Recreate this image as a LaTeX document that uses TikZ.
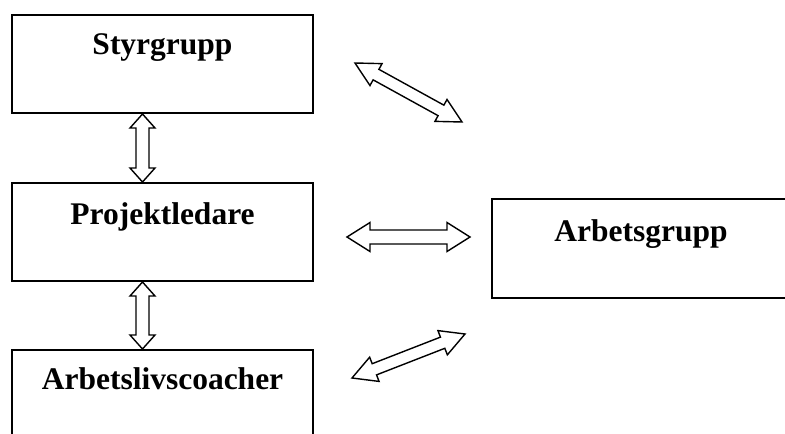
\documentclass[tikz,border=0pt]{standalone}
\usepackage{fontspec}
\setmainfont{Liberation Serif}
\usetikzlibrary{calc}
\tikzset{
  box/.style={draw, line width=2pt, anchor=north west, inner sep=0pt,
    minimum width=301pt, font=\bfseries\fontsize{31.5}{36}\selectfont},
  blockarrow/.style={draw, fill=white, line width=1.4pt, line join=miter}
}
% #1 start, #2 end, #3 shaft half width, #4 head half width, #5 head length
\newcommand\blockarr[5]{%
  \draw[blockarrow]
    (#1)
    -- ($ ($(#1)!#5!(#2)$)!#4!90:(#2) $)
    -- ($ ($(#1)!#5!(#2)$)!#3!90:(#2) $)
    -- ($ ($(#2)!#5!(#1)$)!#3!-90:(#1) $)
    -- ($ ($(#2)!#5!(#1)$)!#4!-90:(#1) $)
    -- (#2)
    -- ($ ($(#2)!#5!(#1)$)!#4!90:(#1) $)
    -- ($ ($(#2)!#5!(#1)$)!#3!90:(#1) $)
    -- ($ ($(#1)!#5!(#2)$)!#3!-90:(#2) $)
    -- ($ ($(#1)!#5!(#2)$)!#4!-90:(#2) $)
    -- cycle;}
\begin{document}
\begin{tikzpicture}[x=1pt, y=-1pt]
  \useasboundingbox (0,0) rectangle (785,434);
  \node[box, text height=39pt, text depth=59pt] (s) at (11,14) {Styrgrupp};
  \node[box, text height=41pt, text depth=57pt] (p) at (11,182) {Projektledare};
  \node[box, text height=39pt, text depth=90pt] (c) at (11,349) {Arbetslivscoacher};
  \node[box, minimum width=298pt, text height=42pt, text depth=57pt] (w) at (491,198) {Arbetsgrupp};

  \coordinate (v) at (142.5,0);
  \coordinate (sv) at (s.south -| v);
  \coordinate (pvn) at (p.north -| v);
  \coordinate (pvs) at (p.south -| v);
  \coordinate (cv) at (c.north -| v);
  \coordinate (d1a) at (355,63);
  \coordinate (d1b) at (462,122);
  \coordinate (h1a) at (347,237);
  \coordinate (h1b) at (470,237);
  \coordinate (d2a) at (352,378);
  \coordinate (d2b) at (465,334);

  \blockarr{sv}{pvn}{6.5pt}{12.5pt}{14pt}
  \blockarr{pvs}{cv}{6.5pt}{12.5pt}{14pt}
  \blockarr{d1a}{d1b}{6pt}{12.5pt}{24pt}
  \blockarr{h1a}{h1b}{7pt}{14.5pt}{23pt}
  \blockarr{d2a}{d2b}{6pt}{13pt}{24pt}
\end{tikzpicture}
\end{document}
